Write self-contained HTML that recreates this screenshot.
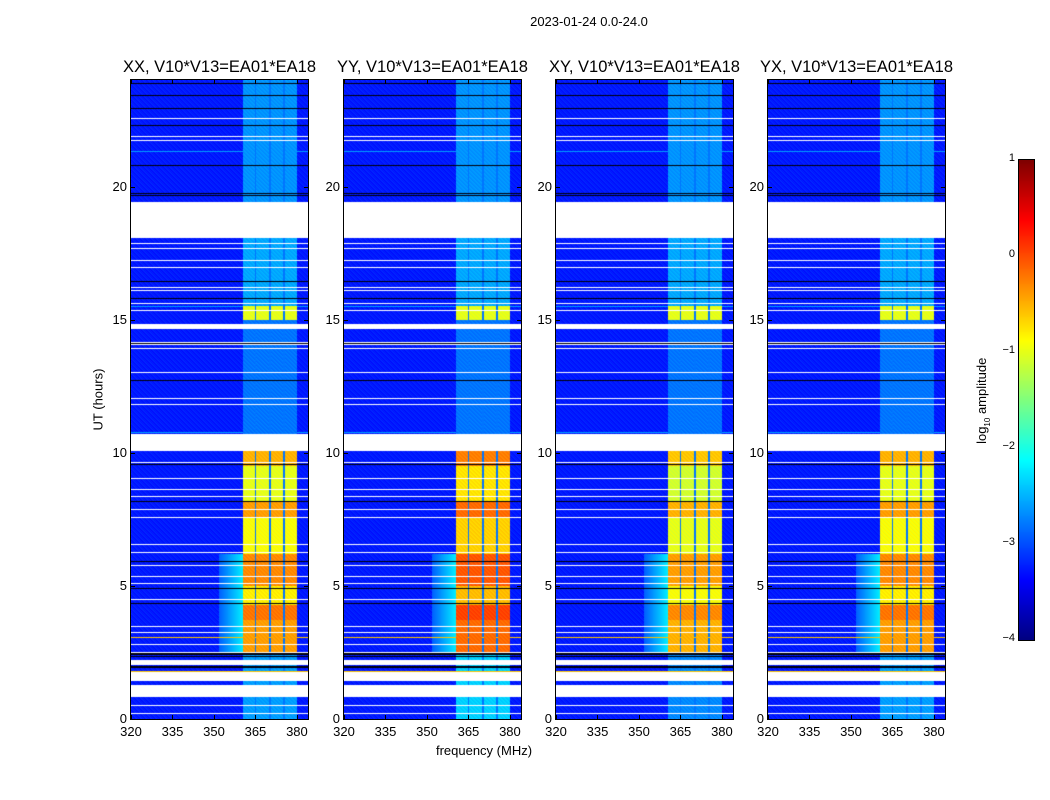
<!DOCTYPE html>
<html><head><meta charset="utf-8">
<style>
body{margin:0;background:#fff;width:1050px;height:800px;position:relative;overflow:hidden;font-family:"Liberation Sans",sans-serif;color:#000}
.t{position:absolute;white-space:nowrap;font-size:13px}
canvas{position:absolute}
.frame{position:absolute;border:1px solid #000;box-sizing:border-box}
</style></head><body>
<div class="t" style="left:489px;top:14px;width:200px;text-align:center">2023-01-24 0.0-24.0</div>
<div id="root"></div>
<div class="t" style="left:384px;top:743px;width:200px;text-align:center">frequency (MHz)</div>
<div class="t" style="left:48px;top:392px;width:100px;text-align:center;transform:rotate(-90deg)">UT (hours)</div>
<canvas id="cb" width="15" height="480" style="left:1019px;top:160px"></canvas>
<div class="frame" style="left:1018px;top:159px;width:17px;height:482px"></div>
<div class="t" style="left:918px;top:392px;width:130px;text-align:center;transform:rotate(-90deg)">log<sub style="font-size:8px">10</sub> amplitude</div>
<script>
const panelTitles=["XX, V10*V13=EA01*EA18","YY, V10*V13=EA01*EA18","XY, V10*V13=EA01*EA18","YX, V10*V13=EA01*EA18"];
const panelOffset=[0,0.25,-0.1,0];
const xTicks=[320,335,350,365,380];
const yTicks=[0,5,10,15,20];
const cbTicks=[1,0,-1,-2,-3,-4];
const bandStart=[0,2.5,3.7,4.3,5.0,6.2,7.6,8.2,9.5,10.7,15.0,15.5,19.4];
const bandEnd=[2.5,3.7,4.3,5.0,6.2,7.6,8.2,9.5,10.1,15.0,15.5,19.4,24];
const bandLevel=[-2.6,-0.4,-0.2,-0.8,-0.3,-0.9,-0.4,-1.0,-0.5,-2.8,-1.0,-2.55,-2.65];
const whiteGapStart=[18.1,10.1,2.03,1.45,0.85,14.65];
const whiteGapEnd=[19.4,10.7,2.19,1.73,1.27,14.8];
const whiteLines=[9.62,9.04,8.62,8.37,7.87,7.56,6.56,6.24,5.78,5.37,5.09,4.5,3.49,3.25,2.78,2.49,0.83,0.49,0.21,22.55,21.86,21.74,17.85,17.66,17.22,16.97,16.22,16.1,15.6,15.35,14.15,13.9,14.05,13.0,12.05,11.8];
const blackLines=[9.56,8.18,5.9,4.9,4.34,2.35,2.41,2.47,1.93,1.98,23.85,23.43,22.93,22.3,20.8,19.74,19.68,16.45,15.8,14.1,12.73];
const cyanStripes=[21.3,10.75,15.5];
const hotLines=[1.8,3.05];
const gapChannels=[365.1,370.2,375.3];
const bandLo=360.5,bandHi=380;
const broadLo=352,broadStart=2.5,broadEnd=6.2;

const LEFTS=[131,344,556,768],T0=80,W=177,H=639;
const fmin=320,fmax=384,hmax=24;
const xOf=f=>(f-fmin)/(fmax-fmin)*W;
const yOf=h=>H-h/hmax*H;
function jet(v){let t=Math.max(0,Math.min(1,(v+4)/5));
 const c=x=>Math.max(0,Math.min(1,1.5-Math.abs(4*t-x)));
 return [c(3)*255,c(2)*255,c(1)*255];}
const root=document.getElementById('root');
function mk(tag,name,css,txt){const e=document.createElement(tag);
 
 
 if(css)e.style.cssText=css;if(txt!==undefined)e.textContent=txt;root.appendChild(e);return e;}
function inR(a,b,lo,hi){return a<hi&&b>lo;}
for(let p=0;p<4;p++){
 const L=LEFTS[p];
 const cv=mk('canvas','heatmap-'+p,`left:${L}px;top:${T0}px`);
 cv.width=W;cv.height=H;const ctx=cv.getContext('2d');const img=ctx.createImageData(W,H);
 for(let y=0;y<H;y++){
  const h1=(H-y)/H*hmax,h0=(H-y-1)/H*hmax;const hm=(h0+h1)/2;
  let white=false,black=false,cyan=false,hot=false;
  for(let i=0;i<whiteGapStart.length;i++)if(inR(h0,h1,whiteGapStart[i],whiteGapEnd[i]))white=true;
  for(const l of whiteLines)if(l>=h0&&l<h1)white=true;
  for(const l of blackLines)if(l>=h0&&l<h1)black=true;
  for(const l of cyanStripes)if(l>=h0&&l<h1)cyan=true;
  for(const l of hotLines)if(l>=h0&&l<h1)hot=true;
  let lvl=-2.3;for(let i=0;i<bandStart.length;i++)if(hm>=bandStart[i]&&hm<bandEnd[i])lvl=bandLevel[i];
  for(let x=0;x<W;x++){
   const f=fmin+(x+0.5)/W*(fmax-fmin);let col;
   if(white)col=[255,255,255];else if(black)col=[0,0,10];
   else{let v=-3.25+(((x*7+y*13)%5)-2)*0.06;
    if(cyan)v=-2.6;
    if(f>=bandLo&&f<bandHi){let g=false;for(const c of gapChannels)if(Math.abs(f-c)<0.25)g=true;
     v=g?Math.min(lvl,-2.8):lvl+(hm<10.1?panelOffset[p]:0)+(((x*5+y*11)%4)-1.5)*0.05;}
    else if(f>=broadLo&&f<bandLo&&hm>=broadStart&&hm<broadEnd){v=-2.9+0.7*(f-broadLo)/(bandLo-broadLo);}
    if(hot)v=Math.max(v,-0.6);
    col=jet(v);}
   const k=(y*W+x)*4;img.data[k]=col[0];img.data[k+1]=col[1];img.data[k+2]=col[2];img.data[k+3]=255;}
 }
 ctx.putImageData(img,0,0);
 mk('div','panel-frame-'+p,`left:${L-1}px;top:${T0-1}px;width:${W+2}px;height:${H+2}px`).className='frame';
 mk('div','panel-title-'+p,`left:${L-30}px;top:58px;width:${W+60}px;text-align:center;font-size:16.5px`,panelTitles[p]).className='t';
 for(const t of xTicks){const x=L+xOf(t);
  mk('div','x-tick-label',`left:${x-20}px;top:724px;width:40px;text-align:center`,t).className='t';
  mk('div','x-tick',`position:absolute;left:${x}px;top:${T0+H-4}px;width:1px;height:4px;background:#000`);
  mk('div','x-tick',`position:absolute;left:${x}px;top:${T0}px;width:1px;height:4px;background:#000`);}
 for(const t of yTicks){const y=T0+yOf(t);
  mk('div','y-tick-label',`left:${L-30}px;top:${y-8}px;width:26px;text-align:right`,t).className='t';
  mk('div','y-tick',`position:absolute;left:${L}px;top:${y}px;width:4px;height:1px;background:#000`);
  mk('div','y-tick',`position:absolute;left:${L+W-4}px;top:${y}px;width:4px;height:1px;background:#000`);}
}
const cb=document.getElementById('cb').getContext('2d');
for(let y=0;y<480;y++){const v=1-y/96;const c=jet(v);cb.fillStyle=`rgb(${c[0]|0},${c[1]|0},${c[2]|0})`;cb.fillRect(0,y,15,1);}
for(const t of cbTicks){const y=160+(1-t)*96;
 const e=mk('div','colorbar-tick-label',`left:995px;top:${y-8}px;width:20px;text-align:right;font-size:11px`,t<0?'\u2212'+(-t):t);e.className='t';}
</script>
</body></html>
